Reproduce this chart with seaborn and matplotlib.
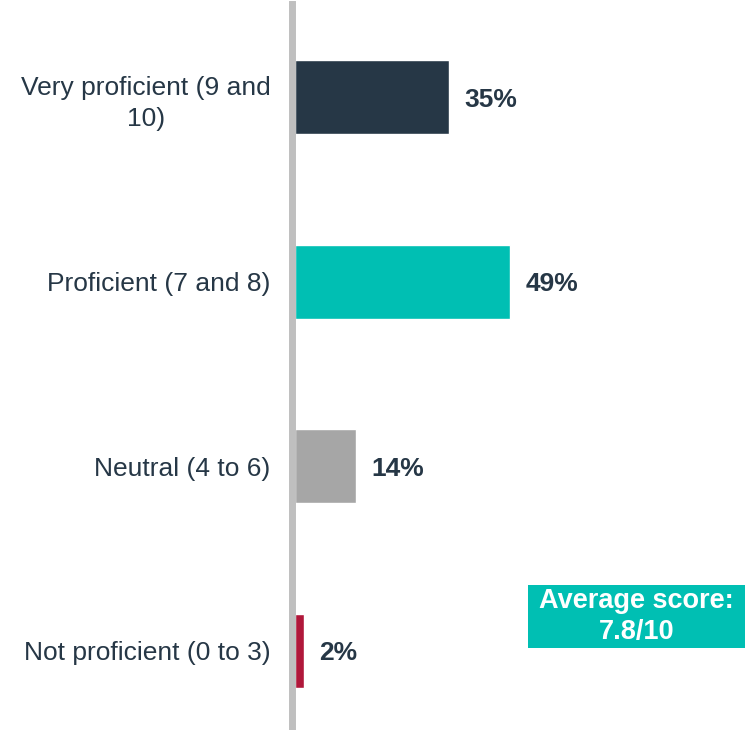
import matplotlib
matplotlib.use('Agg')
import matplotlib.pyplot as plt
import seaborn as sns
import pandas as pd

# 数据
categories = ['Very proficient (9 and\n10)', 'Proficient (7 and 8)',
              'Neutral (4 to 6)', 'Not proficient (0 to 3)']
values = [35, 49, 14, 2]
bar_colors = ['#263746', '#00BFB3', '#A6A6A6', '#B0173A']
avg_text = 'Average score:\n7.8/10'

text_color = '#263746'

sns.set_theme(style='white')
plt.rcParams['font.family'] = ['Liberation Sans', 'DejaVu Sans']

df = pd.DataFrame({'category': categories, 'value': values})

fig = plt.figure(figsize=(7.45, 7.30), dpi=100)
ax = fig.add_axes([295 / 745, 0, 1 - 295 / 745, 1 - 4 / 730])

sns.barplot(data=df, x='value', y='category', hue='category',
            palette=bar_colors, orient='h', width=0.4,
            legend=False, ax=ax, saturation=1)

ax.set_xlim(0, 102.5)
ax.set_ylim(3.43, -0.505)

# 数值标签
for cont, v in zip(ax.containers, values):
    txts = ax.bar_label(cont, labels=[f'{v}%'], padding=11, fontsize=19,
                        fontweight='bold', color=text_color)
    for t in txts:
        t.set_va('center_baseline')

# 坐标轴样式
for s in ['top', 'right', 'bottom']:
    ax.spines[s].set_visible(False)
ax.spines['left'].set_color('#BFBFBF')
ax.spines['left'].set_linewidth(5.0)
ax.spines['left'].set_position(('outward', 2.5))
ax.set_xticks([])
ax.set_xlabel('')
ax.set_ylabel('')
ax.tick_params(axis='y', length=0, pad=15, labelsize=19, labelcolor=text_color)
for lbl in ax.get_yticklabels():
    lbl.set_multialignment('center')
    lbl.set_linespacing(1.4)

# 平均分文本框
fig.patches.append(plt.Rectangle((528 / 745, (730 - 648) / 730),
                                 (745 - 528) / 745, 63 / 730,
                                 transform=fig.transFigure,
                                 facecolor='#00BFB3', edgecolor='none'))
fig.text((528 + 745) / 2 / 745, (730 - 617) / 730, avg_text,
         ha='center', va='center', fontsize=19.5, fontweight='bold',
         color='white', linespacing=1.25)

plt.savefig('out.png', dpi=100)
